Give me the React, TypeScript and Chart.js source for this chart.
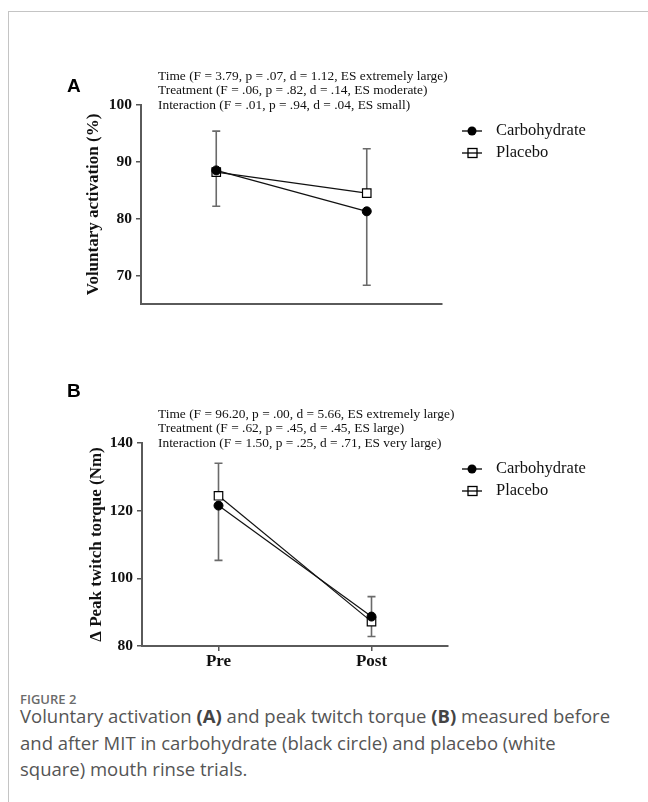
import React, { useEffect, useRef } from "react";
import { Chart, registerables } from "chart.js";

Chart.register(...registerables);

// ---------- data ----------
const categories = ["Pre", "Post"];

// Panel A: voluntary activation (%)
const carbA = [88.5, 81.3];
const placA = [88.2, 84.5];
const carbAErrUp = [0, 0];
const carbAErrDown = [6.3, 13.0];
const placAErrUp = [7.2, 7.8];
const placAErrDown = [0, 0];
const yTicksA = [70, 80, 90, 100];
const statsA = [
  "Time (F = 3.79, p = .07, d = 1.12, ES extremely large)",
  "Treatment (F = .06, p = .82, d = .14, ES moderate)",
  "Interaction (F = .01, p = .94, d = .04, ES small)",
];

// Panel B: peak twitch torque (Nm)
const carbB = [121.5, 88.7];
const placB = [124.4, 87.2];
const carbBErrUp = [0, 5.9];
const carbBErrDown = [16.2, 0];
const placBErrUp = [9.6, 0];
const placBErrDown = [0, 4.4];
const yTicksB = [80, 100, 120, 140];
const statsB = [
  "Time (F = 96.20, p = .00, d = 5.66, ES extremely large)",
  "Treatment (F = .62, p = .45, d = .45, ES large)",
  "Interaction (F = 1.50, p = .25, d = .71, ES very large)",
];

const seriesNames = ["Carbohydrate", "Placebo"];

const SERIF = "'Liberation Serif', 'Times New Roman', serif";
const SANS = "'Liberation Sans', Arial, sans-serif";

type PanelCfg = {
  letter: string;
  carb: number[];
  plac: number[];
  carbUp: number[];
  carbDown: number[];
  placUp: number[];
  placDown: number[];
  yMin: number;
  yMax: number;
  yTicks: number[];
  yTitle: string;
  titlePad: number;
  showX: boolean;
  stats: string[];
  pad: { left: number; right: number; top: number; bottom: number };
  xH: number;
  letterY: number;
  statsY: number;
  legendY: number;
};

function makeChart(canvas: HTMLCanvasElement, p: PanelCfg) {
  const errorBars = {
    id: "errorBars",
    beforeDatasetsDraw(chart: any) {
      const ctx = chart.ctx;
      const xs = chart.scales.x;
      const ys = chart.scales.y;
      const sets = [
        { v: p.carb, up: p.carbUp, dn: p.carbDown },
        { v: p.plac, up: p.placUp, dn: p.placDown },
      ];
      ctx.save();
      ctx.strokeStyle = "#6a6a6a";
      ctx.lineWidth = 1.6;
      sets.forEach((s) => {
        s.v.forEach((val, i) => {
          const x = xs.getPixelForValue(i);
          const y0 = ys.getPixelForValue(val);
          const ends: number[] = [];
          if (s.up[i] > 0) ends.push(ys.getPixelForValue(val + s.up[i]));
          if (s.dn[i] > 0) ends.push(ys.getPixelForValue(val - s.dn[i]));
          ends.forEach((ye) => {
            ctx.beginPath();
            ctx.moveTo(x, y0);
            ctx.lineTo(x, ye);
            ctx.moveTo(x - 4, ye);
            ctx.lineTo(x + 4, ye);
            ctx.stroke();
          });
        });
      });
      ctx.restore();
    },
  };

  const decorations = {
    id: "decorations",
    afterDraw(chart: any) {
      const ctx = chart.ctx;
      ctx.save();
      // panel letter
      ctx.fillStyle = "#000";
      ctx.font = `bold 19px ${SANS}`;
      ctx.textBaseline = "middle";
      ctx.textAlign = "left";
      ctx.fillText(p.letter, 67, p.letterY);
      // stats text
      ctx.font = `13.4px ${SERIF}`;
      ctx.fillStyle = "#111";
      p.stats.forEach((t, i) => ctx.fillText(t, 158, p.statsY + i * 14.5));
      // legend
      ctx.font = `16.5px ${SERIF}`;
      seriesNames.forEach((name, i) => {
        const y = p.legendY + i * 22;
        ctx.strokeStyle = "#000";
        ctx.lineWidth = 1.3;
        if (i === 0) {
          ctx.beginPath();
          ctx.moveTo(462, y);
          ctx.lineTo(482, y);
          ctx.stroke();
          ctx.fillStyle = "#000";
          ctx.beginPath();
          ctx.arc(472, y, 4.5, 0, Math.PI * 2);
          ctx.fill();
        } else {
          ctx.fillStyle = "#fff";
          ctx.fillRect(468, y - 4.5, 9, 9);
          ctx.strokeRect(468, y - 4.5, 9, 9);
          ctx.beginPath();
          ctx.moveTo(462, y);
          ctx.lineTo(482, y);
          ctx.stroke();
        }
        ctx.fillStyle = "#111";
        ctx.fillText(name, 496, y);
      });
      ctx.restore();
    },
  };

  return new Chart(canvas, {
    type: "line",
    data: {
      labels: categories,
      datasets: [
        {
          label: seriesNames[0],
          data: p.carb,
          borderColor: "#111",
          borderWidth: 1.2,
          pointStyle: "circle",
          pointRadius: 4.5,
          pointBackgroundColor: "#000",
          pointBorderColor: "#000",
          pointBorderWidth: 1,
        },
        {
          label: seriesNames[1],
          data: p.plac,
          borderColor: "#111",
          borderWidth: 1.2,
          pointStyle: "rect",
          pointRadius: 6,
          pointBackgroundColor: "#fff",
          pointBorderColor: "#000",
          pointBorderWidth: 1.2,
        },
      ],
    },
    options: {
      responsive: false,
      animation: false,
      events: [],
      layout: { padding: p.pad },
      plugins: { legend: { display: false }, tooltip: { enabled: false } },
      scales: {
        x: {
          type: "category",
          offset: true,
          grid: {
            display: true,
            drawOnChartArea: false,
            drawTicks: p.showX,
            tickLength: 5,
            color: "#555",
            lineWidth: 1.5,
          },
          border: { display: true, color: "#5a5a5a", width: 2 },
          ticks: {
            display: p.showX,
            font: { family: SERIF, size: 17, weight: "bold" },
            color: "#111",
            padding: 0,
          },
          afterFit: (s: any) => {
            s.height = p.xH;
          },
        },
        y: {
          min: p.yMin,
          max: p.yMax,
          afterBuildTicks: (s: any) => {
            s.ticks = p.yTicks.map((v) => ({ value: v }));
          },
          grid: {
            display: true,
            drawOnChartArea: false,
            drawTicks: true,
            tickLength: 5,
            color: "#555",
            lineWidth: 1.5,
          },
          border: { display: true, color: "#5a5a5a", width: 2 },
          ticks: {
            font: { family: SERIF, size: 15.5, weight: "bold" },
            color: "#111",
            padding: 4,
          },
          title: {
            display: true,
            text: p.yTitle,
            font: { family: SERIF, size: 17, weight: "bold" },
            color: "#111",
            padding: { top: p.titlePad, bottom: 0 },
          },
          afterFit: (s: any) => {
            s.width = 60;
          },
        },
      },
    },
    plugins: [errorBars, decorations],
  } as any);
}

function Panel({ cfg, top }: { cfg: PanelCfg; top: number }) {
  const ref = useRef<HTMLCanvasElement>(null);
  useEffect(() => {
    if (!ref.current) return;
    const c = makeChart(ref.current, cfg);
    return () => c.destroy();
  }, [cfg]);
  return (
    <canvas
      ref={ref}
      width={648}
      height={340}
      style={{ position: "absolute", left: 0, top, width: 648, height: 340, display: "block" }}
    />
  );
}

const panelA: PanelCfg = {
  letter: "A",
  carb: carbA,
  plac: placA,
  carbUp: carbAErrUp,
  carbDown: carbAErrDown,
  placUp: placAErrUp,
  placDown: placAErrDown,
  yMin: 65,
  yMax: 100,
  yTicks: yTicksA,
  yTitle: "Voluntary activation (%)",
  titlePad: 2,
  showX: false,
  stats: statsA,
  pad: { left: 81, right: 206, top: 105, bottom: 26 },
  xH: 10,
  letterY: 87,
  statsY: 76,
  legendY: 131,
};

const panelB: PanelCfg = {
  letter: "B",
  carb: carbB,
  plac: placB,
  carbUp: carbBErrUp,
  carbDown: carbBErrDown,
  placUp: placBErrUp,
  placDown: placBErrDown,
  yMin: 80,
  yMax: 140,
  yTicks: yTicksB,
  yTitle: "\u0394 Peak twitch torque (Nm)",
  titlePad: 4.5,
  showX: true,
  stats: statsB,
  pad: { left: 82, right: 200, top: 103, bottom: 4 },
  xH: 30,
  letterY: 52,
  statsY: 74,
  legendY: 129,
};

export default function App() {
  return (
    <div
      style={{
        position: "absolute",
        left: 0,
        top: 0,
        width: 648,
        height: 802,
        background: "#fff",
        overflow: "hidden",
      }}
    >
      <div style={{ position: "absolute", left: 8, top: 11, right: 0, height: 1, background: "#c4c4c4" }} />
      <div style={{ position: "absolute", left: 8, top: 11, width: 1, bottom: 0, background: "#c4c4c4" }} />
      <Panel cfg={panelA} top={0} />
      <Panel cfg={panelB} top={340} />
      <div
        style={{
          position: "absolute",
          left: 20,
          top: 691,
          fontFamily: "'Open Sans', sans-serif",
          fontSize: 13,
          fontWeight: 600,
          color: "#6b6b6b",
          whiteSpace: "nowrap",
          lineHeight: "17px",
        }}
      >
        FIGURE 2
      </div>
      <div
        style={{
          position: "absolute",
          left: 20,
          top: 703,
          fontFamily: "'Open Sans', sans-serif",
          fontSize: 18.5,
          color: "#555",
          whiteSpace: "nowrap",
          lineHeight: "26.5px",
        }}
      >
        <div>
          Voluntary activation <b style={{ color: "#444" }}>(A)</b> and peak twitch torque{" "}
          <b style={{ color: "#444" }}>(B)</b> measured before
        </div>
        <div>and after MIT in carbohydrate (black circle) and placebo (white</div>
        <div>square) mouth rinse trials.</div>
      </div>
    </div>
  );
}
